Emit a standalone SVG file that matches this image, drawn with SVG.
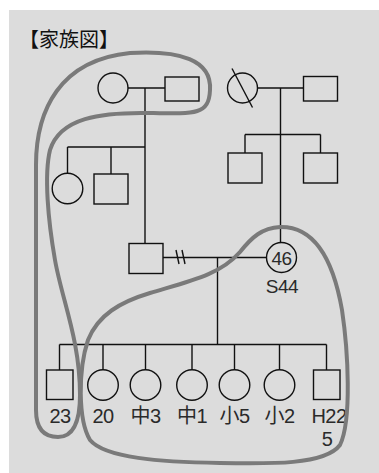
<svg xmlns="http://www.w3.org/2000/svg" width="379" height="473" viewBox="0 0 379 473">
<style>
.ln{stroke:#111;stroke-width:1.4;fill:none}
.nd{stroke:#111;stroke-width:1.4;fill:none}
.enc{stroke:#7a7a7a;stroke-width:4;fill:none;stroke-linejoin:round}
.lb{font-family:"Liberation Sans","Noto Sans CJK JP",sans-serif;font-size:20px;fill:#2a2a2a;text-anchor:middle;letter-spacing:-0.5px}
.tt{font-family:"Noto Sans CJK JP","Liberation Sans",sans-serif;font-size:20px;fill:#111}
</style>
<rect x="0" y="0" width="379" height="473" fill="#ffffff"/>
<rect x="9" y="10" width="370" height="463" fill="#dcdcdc"/>
<text class="tt" x="19" y="47">【家族図】</text>
<g id="connectors">
<line class="ln" x1="128" y1="88" x2="165" y2="88"/>
<line class="ln" x1="145" y1="88" x2="145" y2="243"/>
<line class="ln" x1="67.5" y1="147" x2="145" y2="147"/>
<line class="ln" x1="67.5" y1="147" x2="67.5" y2="173"/>
<line class="ln" x1="111" y1="147" x2="111" y2="174"/>
<line class="ln" x1="258" y1="88" x2="303" y2="88"/>
<line class="ln" x1="280.5" y1="88" x2="280.5" y2="242"/>
<line class="ln" x1="245" y1="134.5" x2="320.5" y2="134.5"/>
<line class="ln" x1="245" y1="134.5" x2="245" y2="153"/>
<line class="ln" x1="320.5" y1="134.5" x2="320.5" y2="153"/>
<line class="ln" x1="163" y1="257.5" x2="266.5" y2="257.5"/>
<line class="ln" x1="176" y1="250" x2="179" y2="264"/>
<line class="ln" x1="182" y1="250" x2="185" y2="264"/>
<line class="ln" x1="217.5" y1="257.5" x2="217.5" y2="344.5"/>
<line class="ln" x1="59.5" y1="344.5" x2="326.5" y2="344.5"/>
<line class="ln" x1="59.5" y1="344.5" x2="59.5" y2="370"/>
<line class="ln" x1="103" y1="344.5" x2="103" y2="370"/>
<line class="ln" x1="145.5" y1="344.5" x2="145.5" y2="370"/>
<line class="ln" x1="192" y1="344.5" x2="192" y2="370"/>
<line class="ln" x1="234.5" y1="344.5" x2="234.5" y2="370"/>
<line class="ln" x1="279.5" y1="344.5" x2="279.5" y2="370"/>
<line class="ln" x1="326.5" y1="344.5" x2="326.5" y2="370"/>
</g>
<g id="gf1"><circle class="nd" cx="113" cy="88" r="15"/></g>
<g id="gm1"><rect class="nd" x="165" y="77" width="34" height="24"/></g>
<g id="gf2"><circle class="nd" cx="242.5" cy="88" r="15"/><line class="ln" x1="232" y1="68.5" x2="252.5" y2="107.5"/></g>
<g id="gm2"><rect class="nd" x="303.5" y="76.5" width="34" height="24.5"/></g>
<g id="aunt"><circle class="nd" cx="67.5" cy="188.5" r="15.3"/></g>
<g id="uncle1"><rect class="nd" x="94" y="174" width="34" height="30"/></g>
<g id="uncle2"><rect class="nd" x="228" y="153" width="34" height="30"/></g>
<g id="uncle3"><rect class="nd" x="303.5" y="153" width="34" height="30"/></g>
<g id="father"><rect class="nd" x="129" y="243.5" width="34" height="30"/></g>
<g id="mother"><circle class="nd" cx="281.5" cy="257.5" r="15"/><text class="lb" x="281.5" y="264.5" style="font-size:19px">46</text><text class="lb" x="282" y="293" style="font-size:19px">S44</text></g>
<g id="c1"><rect class="nd" x="46.5" y="370" width="26.5" height="29.5"/><text class="lb" x="60" y="422.5">23</text></g>
<g id="c2"><circle class="nd" cx="103" cy="385" r="15.3"/><text class="lb" x="103" y="422.5">20</text></g>
<g id="c3"><circle class="nd" cx="145.5" cy="385" r="15.3"/><text class="lb" x="145.5" y="422.5">中3</text></g>
<g id="c4"><circle class="nd" cx="192" cy="385" r="15.3"/><text class="lb" x="192" y="422.5">中1</text></g>
<g id="c5"><circle class="nd" cx="234.5" cy="385" r="15.3"/><text class="lb" x="234.5" y="422.5">小5</text></g>
<g id="c6"><circle class="nd" cx="279.5" cy="385" r="15.3"/><text class="lb" x="279.5" y="422.5">小2</text></g>
<g id="c7"><rect class="nd" x="313.5" y="370" width="26.5" height="29.5"/><text class="lb" x="329" y="422.5">H22</text><text class="lb" x="327" y="446">5</text></g>
<g id="enclosures">
<path class="enc" d="M36,165 C36,110 60,60 130,53 C180,50 212,60 210,90 C209,115 195,114 150,113 C100,112 60,118 50,150 C44,175 48,220 55,260 C62,300 80,340 80,395 C80,428 70,437 58,437 C45,437 36,430 36,410 Z"/>
<path class="enc" d="M280,227 C320,226 335,270 342,310 C348,350 352,420 340,445 C325,465 270,464 220,463 C160,462 105,458 90,440 C78,420 78,370 88,340 C98,315 120,302 150,293 C190,281 220,275 240,252 C252,237 262,228 280,227 Z"/>
</g>
</svg>
